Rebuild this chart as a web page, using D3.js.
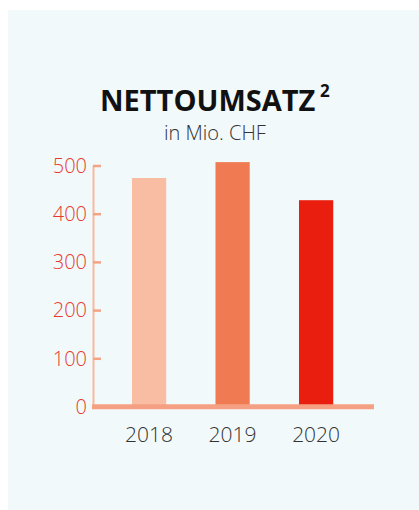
<!DOCTYPE html>
<html>
<head>
<meta charset="utf-8">
<script src="https://cdn.jsdelivr.net/npm/d3@7"></script>
<style>
html,body{margin:0;padding:0;background:#fff;}
svg{display:block;}
</style>
</head>
<body>
<div id="chart"></div>
<script>
// Nettoumsatz in Mio. CHF
var years=["2018","2019","2020"];
var values=[474,507,428];
var yTicks=[0,100,200,300,400,500];
var barColors=["#f8bda3","#f07b52","#e91e0e"];

var ww=419,hh=510;
var svg=d3.select("#chart").append("svg")
    .attr("width",ww)
    .attr("height",hh);

// panel
svg.append("rect")
   .attr("x",8).attr("y",10)
   .attr("width",ww-8).attr("height",hh-10)
   .attr("fill","#f2f9fb");

// title
svg.append("text")
   .attr("x",100).attr("y",111)
   .attr("font-family","'Open Sans', sans-serif")
   .attr("font-weight","bold")
   .attr("font-size",29)
   .attr("fill","#111")
   .text("NETTOUMSATZ");
svg.append("text")
   .attr("x",320).attr("y",97)
   .attr("font-family","'Open Sans', sans-serif")
   .attr("font-weight","bold")
   .attr("font-size",17)
   .attr("fill","#111")
   .text("2");

svg.append("text")
   .attr("x",215).attr("y",140)
   .attr("text-anchor","middle")
   .attr("font-family","'Open Sans', sans-serif")
   .attr("font-weight",300)
   .attr("font-size",20)
   .attr("fill","#333")
   .text("in Mio. CHF");

var x=d3.scaleBand().domain(years).range([82.7,382.5]).paddingInner(0.59).paddingOuter(0.59),
    y=d3.scaleLinear().domain([0,500]).range([406.5,165.5]);

// bars
svg.selectAll("rect.bar")
   .data(values).enter()
   .append("rect")
   .attr("class","bar")
   .attr("x",function(d,i){return x(years[i]);})
   .attr("y",function(d){return y(d);})
   .attr("width",x.bandwidth())
   .attr("height",function(d){return y(0)-y(d);})
   .attr("fill",function(d,i){return barColors[i];});

// y axis
var yAxis=d3.axisLeft(y).tickValues(yTicks).tickSizeInner(-8).tickSizeOuter(0).tickPadding(6);
var gy=svg.append("g")
   .attr("transform","translate(93,0)")
   .call(yAxis);
gy.select(".domain").attr("stroke","#f9b89d").attr("stroke-width",2);
gy.selectAll(".tick line").attr("stroke","#f5a385").attr("stroke-width",2.5);
gy.selectAll(".tick text")
  .attr("fill","#e63b2c")
  .attr("font-family","'Open Sans', sans-serif")
  .attr("font-weight",300)
  .attr("font-size",20)
  .attr("dy","0.34em");

// baseline
svg.append("line")
   .attr("x1",92).attr("x2",374)
   .attr("y1",y(0)+0.3).attr("y2",y(0)+0.3)
   .attr("stroke","#f5a082")
   .attr("stroke-width",5);

// x labels
svg.selectAll("text.xlbl")
   .data(years).enter()
   .append("text")
   .attr("class","xlbl")
   .attr("x",function(d){return x(d)+x.bandwidth()/2;})
   .attr("y",441.5)
   .attr("text-anchor","middle")
   .attr("font-family","'Open Sans', sans-serif")
   .attr("font-weight",300)
   .attr("font-size",21)
   .attr("fill","#333")
   .text(function(d){return d;});
</script>
</body>
</html>
